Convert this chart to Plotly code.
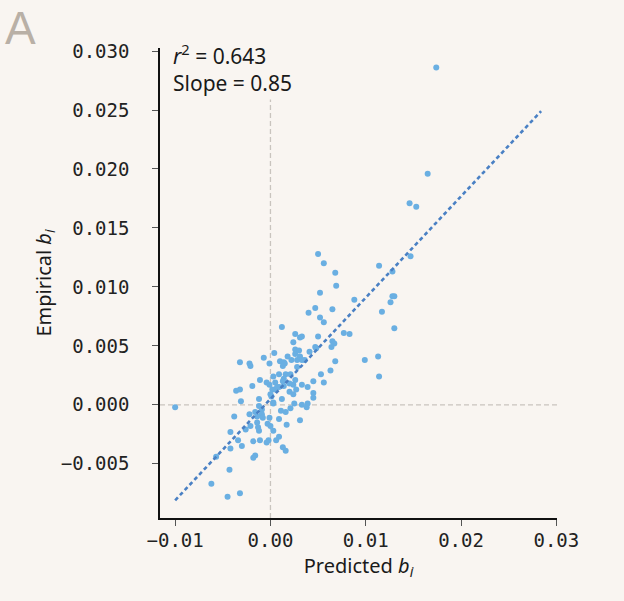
import plotly.graph_objects as go

# Predicted b_i (x) and empirical b_i (y)
predicted_b = [
    0.0050, 0.0056, 0.0068, 0.0069, 0.0052, 0.0040, 0.0047, 0.0065, 0.0052, 0.0056,
    0.0088, 0.0114, 0.0128, 0.0128, 0.0130, 0.0126, 0.0117, 0.0130, 0.0099, 0.0113,
    0.0114, 0.0077, 0.0083, 0.0012, 0.0026, 0.0031, 0.0033, 0.0050, 0.0024, 0.0065,
    0.0067, 0.0064, 0.0047, 0.0048, 0.0026, 0.0030, 0.0041, 0.0026, 0.0004, -0.0007,
    0.0018, 0.0022, 0.0028, 0.0031, 0.0033, 0.0036, 0.0068, -0.0001, 0.0010, 0.0014,
    0.0013, 0.0015, 0.0028, -0.0032, -0.0022, -0.0021, 0.0053, 0.0063, 0.0009, 0.0016,
    0.0021, 0.0003, 0.0014, -0.0011, -0.0004, -0.0001, 0.0005, 0.0013, 0.0026, 0.0024,
    0.0045, 0.0056, -0.0019, 0.0009, 0.0033, 0.0039, 0.0002, 0.0005, 0.0007, 0.0014,
    0.0020, 0.0024, 0.0027, 0.0045, 0.0045, -0.0036, -0.0032, -0.0012, 0.0000, 0.0001,
    0.0012, -0.0031, 0.0003, 0.0003, 0.0025, 0.0033, 0.0039, 0.0038, -0.0012, -0.0100,
    0.0011, 0.0021, 0.0016, -0.0009, -0.0016, -0.0022, -0.0038, -0.0014, -0.0009, -0.0008,
    -0.0001, 0.0009, 0.0031, -0.0014, -0.0003, 0.0000, 0.0017, -0.0021, -0.0026, -0.0013,
    -0.0012, -0.0042, 0.0003, 0.0009, 0.0006, -0.0002, -0.0004, -0.0011, -0.0018, -0.0034,
    -0.0030, -0.0042, 0.0013, 0.0016, -0.0016, -0.0018, -0.0057, -0.0043, -0.0062, -0.0045,
    -0.0032, 0.0174, 0.0165, 0.0146, 0.0153, 0.0147, 0.0020,
]
empirical_b = [
    0.0128, 0.0120, 0.0112, 0.0101, 0.0095, 0.0078, 0.0082, 0.0081, 0.0074, 0.0070,
    0.0089, 0.0118, 0.0113, 0.0092, 0.0092, 0.0087, 0.0079, 0.0065, 0.0038, 0.0041,
    0.0024, 0.0061, 0.0060, 0.0066, 0.0060, 0.0057, 0.0058, 0.0058, 0.0053, 0.0054,
    0.0052, 0.0049, 0.0049, 0.0048, 0.0047, 0.0046, 0.0045, 0.0043, 0.0044, 0.0040,
    0.0041, 0.0038, 0.0038, 0.0041, 0.0038, 0.0038, 0.0037, 0.0035, 0.0037, 0.0036,
    0.0033, 0.0035, 0.0032, 0.0036, 0.0035, 0.0033, 0.0026, 0.0029, 0.0026, 0.0026,
    0.0026, 0.0024, 0.0022, 0.0021, 0.0019, 0.0017, 0.0019, 0.0020, 0.0021, 0.0017,
    0.0020, 0.0019, 0.0016, 0.0015, 0.0017, 0.0015, 0.0013, 0.0013, 0.0015, 0.0016,
    0.0011, 0.0009, 0.0013, 0.0010, 0.0006, 0.0012, 0.0013, 0.0005, 0.0009, 0.0007,
    0.0005, 0.0003, 0.0002, 0.0001, 0.0001, 0.0000, 0.0001, -0.0002, -0.0001, -0.0002,
    -0.0005, -0.0003, -0.0006, -0.0004, -0.0006, -0.0008, -0.0010, -0.0010, -0.0008, -0.0011,
    -0.0011, -0.0012, -0.0013, -0.0015, -0.0016, -0.0018, -0.0017, -0.0018, -0.0021, -0.0019,
    -0.0022, -0.0023, -0.0022, -0.0027, -0.0030, -0.0030, -0.0032, -0.0030, -0.0031, -0.0030,
    -0.0035, -0.0037, -0.0036, -0.0039, -0.0043, -0.0045, -0.0044, -0.0055, -0.0067, -0.0078,
    -0.0075, 0.0286, 0.0196, 0.0171, 0.0168, 0.0126, 0.0018,
]

# Fitted regression line (endpoints)
fit_x = [-0.0100, 0.0284]
fit_y = [-0.0081, 0.0249]

x_ticks = [-0.01, 0.00, 0.01, 0.02, 0.03]
x_tick_labels = ["\u22120.01", "0.00", "0.01", "0.02", "0.03"]
y_ticks = [-0.005, 0.000, 0.005, 0.010, 0.015, 0.020, 0.025, 0.030]
y_tick_labels = ["\u22120.005", "0.000", "0.005", "0.010", "0.015", "0.020", "0.025", "0.030"]

r2_text = "0.643"
slope_text = "0.85"

BG = "#f9f5f1"
MONO = "DejaVu Sans Mono"
SANS = "Noto Sans"

fig = go.Figure()

fig.add_hline(y=0, line=dict(color="#c9c4be", width=1.3, dash="5px,3px"), layer="below")
fig.add_vline(x=0, line=dict(color="#c9c4be", width=1.3, dash="5px,3px"), layer="below")

fig.add_trace(go.Scatter(
    x=predicted_b, y=empirical_b, mode="markers",
    marker=dict(size=6, color="#6aafe2", line=dict(width=0)),
    showlegend=False, hoverinfo="skip",
))

fig.add_trace(go.Scatter(
    x=fit_x, y=fit_y, mode="lines",
    line=dict(color="#4a80c4", width=2.6, dash="4px,3px"),
    showlegend=False, hoverinfo="skip",
))

fig.add_annotation(
    xref="paper", yref="paper", x=0.024, y=1.026, xanchor="left", yanchor="top",
    text=f"<i>r</i><sup>2</sup> = {r2_text}<br>Slope = {slope_text}",
    showarrow=False, align="left", bgcolor=BG, borderpad=2,
    font=dict(family=SANS, size=21, color="#1a1a1a"),
)

fig.add_annotation(
    xref="paper", yref="paper", x=-0.392, y=1.1, xanchor="left", yanchor="top",
    text="A", showarrow=False, borderpad=0,
    font=dict(family="Liberation Sans", size=46, color="#b9b0a6"),
)

axis_common = dict(
    showgrid=False, zeroline=False, showline=True, linecolor="#111", linewidth=1.5,
    ticks="outside", ticklen=6, tickwidth=1.3, tickcolor="#555",
    tickfont=dict(family=MONO, size=19, color="#222"),
    title_font=dict(family=SANS, size=20, color="#1a1a1a"),
)

fig.update_xaxes(
    range=[-0.01159, 0.03007], tickmode="array", tickvals=x_ticks, ticktext=x_tick_labels,
    title_text="Predicted <i>b</i><sub><i>i</i></sub>", title_standoff=9,
    ticklabelstandoff=-2, **axis_common,
)
fig.update_yaxes(
    range=[-0.0096, 0.03026], tickmode="array", tickvals=y_ticks, ticktext=y_tick_labels,
    title_text="Empirical <i>b</i><sub><i>i</i></sub>", title_standoff=4,
    ticklabelstandoff=19, **axis_common,
)

fig.update_layout(
    width=624, height=601,
    margin=dict(l=160, r=67, t=48, b=83),
    paper_bgcolor=BG, plot_bgcolor=BG,
)

fig.write_html("out.html")
